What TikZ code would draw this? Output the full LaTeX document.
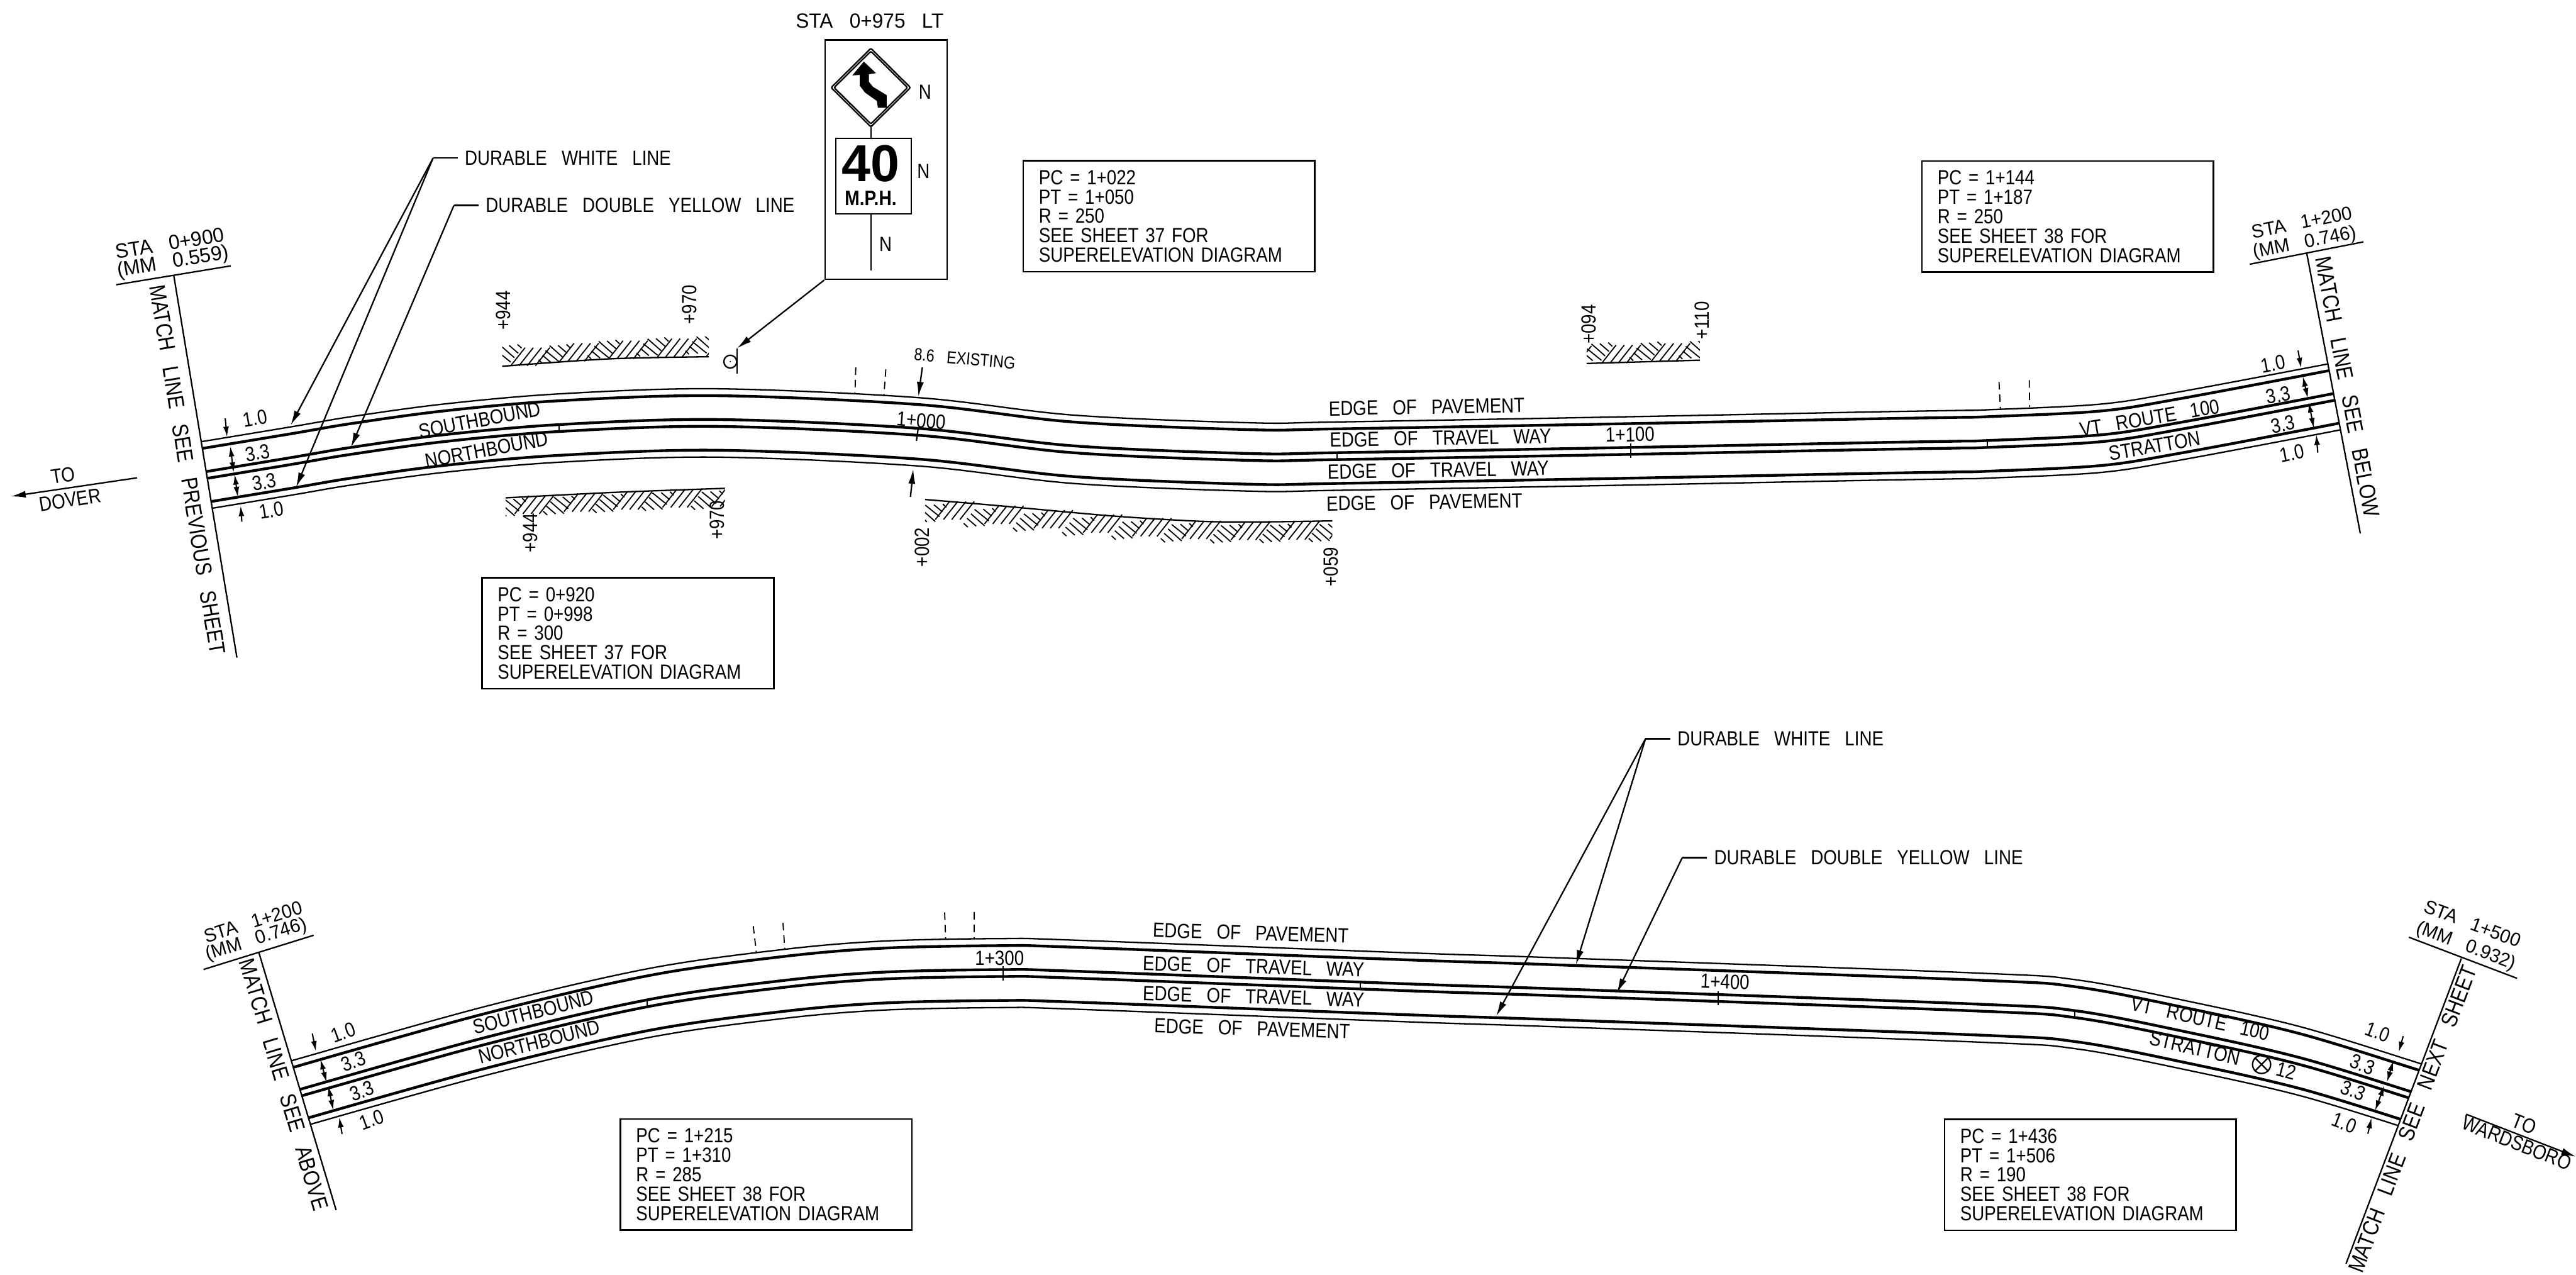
\documentclass[tikz,border=0pt]{standalone}
\usepackage{fontspec}
\setmainfont{Liberation Sans}[FakeStretch=0.85,WordSpace=3]
\newfontfamily\signfont{Liberation Sans}
\newfontfamily\widefont{Liberation Sans}[FakeStretch=0.97,WordSpace=3]
\usepackage{tikz}
\usetikzlibrary{arrows}
\usetikzlibrary{arrows.meta}
\usetikzlibrary{shapes.geometric}

\newcommand{\plansize}{\fontsize{7.1}{6.72}\selectfont}
\newcommand{\matchsize}{\fontsize{7.8}{8}\selectfont}
\newcommand{\stasize}{\widefont\fontsize{6.6}{8}\selectfont}
\newcommand{\firstsize}{\widefont\fontsize{7.1}{8}\selectfont}
\newcommand{\smallsize}{\fontsize{6}{6}\selectfont}
\newcommand{\roadupper}{plot [smooth,tension=0.55] coordinates {(105,292.5) (177,280.6) (213.6,274.4) (270,266.7) (340.4,260.5) (436,257.4) (559,262.8) (653,273.4) (761,278.1) (814,277.6) (992.5,274.4) (1133.7,271.6) (1191.9,270.6) (1209.6,270.2) (1278,266.8) (1326.5,259.3) (1421,241.5) (1445,236.5)}}
\newcommand{\roadlower}{plot [smooth,tension=0.55] coordinates {(150,674.5) (289.7,635) (394,610.6) (477,598.8) (538.3,593.7) (610.6,592.2) (652.3,593.1) (857.6,600.9) (944.8,603.8) (1203.8,613.2) (1264.5,617.4) (1331.7,630.3) (1400,645.8) (1467,666.3) (1490,674)}}

\begin{document}
\begin{tikzpicture}[x=0.02cm,y=-0.02cm]
\tikzset{>={Latex[width=0.85mm,length=1.8mm]}}
\tikzstyle{plantext} =[font=\plansize,inner sep=0pt]
\tikzstyle{matchtext} =[font=\matchsize,inner sep=0pt]
\tikzstyle{statext} =[font=\stasize,inner sep=0pt]
\tikzstyle{firsttext} =[font=\firstsize,inner sep=0pt]
\tikzstyle{smalltext} =[font=\smallsize,inner sep=0pt]
\tikzstyle{leadertext} =[font=\plansize,inner sep=0pt,inner xsep=0.08cm,anchor=west]
\tikzstyle{notebox} =[draw,line width=0.55pt,font=\plansize,align=left,anchor=north west,inner xsep=0.19cm,inner ysep=0pt,text width=3.17cm,minimum height=1.352cm]
\tikzstyle{pavement} =[line width=0.5pt]
\tikzstyle{travelway} =[line width=0.95pt]
\tikzstyle{planline} =[line width=0.5pt]
\tikzstyle{dimline} =[line width=0.45pt,>={Latex[width=0.7mm,length=1.25mm]}]
\tikzstyle{hatchline} =[line width=0.4pt]
\tikzstyle{dashline} =[line width=0.4pt,dash pattern=on 2.6pt off 1.7pt]
\tikzset{hatchcell/.pic={
\foreach \i in {0,...,3} \draw[hatchline] (\i*5,0) -- (\i*5+8.7,-11);
\draw[hatchline] (23.7,-12.2) -- (32,-4.9);
\draw[hatchline] (28.8,-12.4) -- (34.4,-7.6);
\draw[hatchline] (33.9,-13) -- (36.4,-10.7);
\draw[hatchline] (21.1,-9.2) -- (29.8,-2.2);
\draw[hatchline] (19.4,-6.3) -- (24.5,-2);
\draw[hatchline] (17,-3.6) -- (19.1,-1.5);
}}
\useasboundingbox (0,0) rectangle (1568,775.6);

\coordinate (ml1a) at (105.8,167.8);
\coordinate (ml1b) at (144.2,400.2);
\coordinate (ml2a) at (1404.1,154.2);
\coordinate (ml2b) at (1436.7,324.7);
\coordinate (ml3a) at (157.6,579.8);
\coordinate (ml3b) at (204.6,736.5);
\coordinate (ml4a) at (1498.2,583.3);
\coordinate (ml4b) at (1428,769.1);

\begin{scope}
\clip (ml1a) -- (ml1b) -- (ml2b) -- (ml2a) -- cycle;
\foreach \d in {-20.8,20.8} \draw[pavement,shift={(0,\d)}] \roadupper;
\foreach \d in {-16.6,-2.1,2.1,16.6} \draw[travelway,shift={(0,\d)}] \roadupper;
\end{scope}
\begin{scope}
\clip (ml3a) -- (ml3b) -- (ml4b) -- (ml4a) -- (1498.2,530) -- (157.6,530) -- cycle;
\foreach \d in {-21,21} \draw[pavement,shift={(0,\d)}] \roadlower;
\foreach \d in {-16.7,-2.1,2.1,16.7} \draw[travelway,shift={(0,\d)}] \roadlower;
\end{scope}

\draw[planline] (ml1a) -- (ml1b);
\draw[planline] (70.7,173.3) -- (140.5,161.8);
\draw[planline] (ml2a) -- (ml2b);
\draw[planline] (1369.4,160.8) -- (1438.6,147.2);
\draw[planline] (ml3a) -- (ml3b);
\draw[planline] (123.9,590) -- (190.9,569.2);
\draw[planline] (ml4a) -- (ml4b);
\draw[planline] (1466.3,570.4) -- (1532.1,595.4);

\node[firsttext,rotate=9.4](staone) at (103.4,148){STA 0+900};
\node[firsttext,rotate=9.4](mmone) at (105.3,159.7){(MM 0.559)};
\node[matchtext,rotate=-80.6](matchone) at (114.1,285.7){MATCH LINE SEE PREVIOUS SHEET};
\node[statext,rotate=11](statwo) at (1401.2,135.3){STA 1+200};
\node[statext,rotate=11](mmtwo) at (1403,147.9){(MM 0.746)};
\node[matchtext,rotate=-79.2](matchtwo) at (1428.9,235.3){MATCH LINE SEE BELOW};
\node[statext,rotate=17.2](stathree) at (154,561){STA 1+200};
\node[statext,rotate=17.2](mmthree) at (156,572){(MM 0.746)};
\node[matchtext,rotate=-73.3](matchthree) at (172.8,660.1){MATCH LINE SEE ABOVE};
\node[statext,rotate=-20.8](stafour) at (1505,562){STA 1+500};
\node[statext,rotate=-20.8](mmfour) at (1501,576){(MM 0.932)};
\node[matchtext,rotate=69.3](matchfour) at (1468.5,681){MATCH LINE SEE NEXT SHEET};

\coordinate (dovertail) at (83.4,290.8);
\coordinate (doverhead) at (6.7,302.1);
\draw [->,planline] (dovertail) to (doverhead);
\node[plantext,rotate=9](todover) at (38.4,289.3){TO};
\node[plantext,rotate=9](dover) at (42.7,304.2){DOVER};
\coordinate (wardstail) at (1501.1,678.1);
\coordinate (wardshead) at (1568,704);
\draw [->,planline] (wardstail) to (wardshead);
\node[plantext,rotate=-21.5](towards) at (1536.5,684.2){TO};
\node[plantext,rotate=-21.5](wards) at (1532,695.6){WARDSBORO};

\node[leadertext](whiteone) at (278.6,96.2){DURABLE WHITE LINE};
\node[leadertext](yellowone) at (291.3,125){DURABLE DOUBLE YELLOW LINE};
\coordinate (wkneeone) at (263.6,96.2);
\coordinate (ykneeone) at (276.3,125);
\coordinate (wtipa) at (176.9,258.8);
\coordinate (wtipb) at (180.2,296.6);
\coordinate (ytipone) at (213.6,272.3);
\draw [planline] (whiteone) to (wkneeone);
\draw [planline] (yellowone) to (ykneeone);
\draw [->,planline] (wkneeone) to (wtipa);
\draw [->,planline] (wkneeone) to (wtipb);
\draw [->,planline] (ykneeone) to (ytipone);

\node[leadertext](whitetwo) at (1016.7,449.6){DURABLE WHITE LINE};
\node[leadertext](yellowtwo) at (1039,521.9){DURABLE DOUBLE YELLOW LINE};
\coordinate (wkneetwo) at (1001.6,449.6);
\coordinate (ykneetwo) at (1024,521.9);
\coordinate (wtipc) at (959.2,587.2);
\coordinate (wtipd) at (910.7,618.4);
\coordinate (ytiptwo) at (984.1,604.4);
\draw [planline] (whitetwo) to (wkneetwo);
\draw [planline] (yellowtwo) to (ykneetwo);
\draw [->,planline] (wkneetwo) to (wtipc);
\draw [->,planline] (wkneetwo) to (wtipd);
\draw [->,planline] (ykneetwo) to (ytiptwo);

\draw [->,dimline] (137.1,254.6) to (138.2,265.9);
\draw [<->,dimline] (140.2,271.6) to (142.2,287.6);
\draw [<->,dimline] (142.8,288.7) to (144.8,302.5);
\draw [->,dimline] (147.2,317.5) to (146.5,307.9);
\node[plantext,rotate=10](dima) at (155.2,254.6){1.0};
\node[plantext,rotate=10](dimb) at (156.8,275.5){3.3};
\node[plantext,rotate=10](dimc) at (160.8,293.4){3.3};
\node[plantext,rotate=10](dimd) at (165.2,310.6){1.0};
\draw [->,dimline] (1398.8,213.3) to (1400.7,224);
\draw [<->,dimline] (1401.7,229) to (1404.8,242.4);
\draw [<->,dimline] (1405.3,244.8) to (1408.4,260.6);
\draw [->,dimline] (1410.8,275.5) to (1409.9,264.5);
\node[plantext,rotate=11](dime) at (1383.6,221.5){1.0};
\node[plantext,rotate=11](dimf) at (1386.8,240.5){3.3};
\node[plantext,rotate=11](dimg) at (1389.6,258.2){3.3};
\node[plantext,rotate=11](dimh) at (1395.2,275.8){1.0};
\draw [->,dimline] (190.1,629) to (192.3,639.8);
\draw [<->,dimline] (195,644.6) to (198.8,658.7);
\draw [<->,dimline] (199.8,660.9) to (202.9,675.7);
\draw [->,dimline] (208.2,690.1) to (206.5,679.9);
\node[plantext,rotate=20](dimi) at (208.9,628.3){1.0};
\node[plantext,rotate=20](dimj) at (215,646){3.3};
\node[plantext,rotate=20](dimk) at (220.3,663.9){3.3};
\node[plantext,rotate=20](diml) at (226.3,681.4){1.0};
\draw [->,dimline] (1462.8,630.6) to (1460.1,640.2);
\draw [<->,dimline] (1456.8,645.5) to (1453,658.4);
\draw [<->,dimline] (1451.3,660.7) to (1445.7,675.9);
\draw [->,dimline] (1441.3,690) to (1443.5,680.4);
\node[plantext,rotate=-21](dimm) at (1447.3,628){1.0};
\node[plantext,rotate=-21](dimn) at (1438,647.8){3.3};
\node[plantext,rotate=-21](dimo) at (1432.4,663.7){3.3};
\node[plantext,rotate=-21](dimp) at (1426.9,683.4){1.0};

\node[plantext,rotate=10.7](southone) at (292,255.6){SOUTHBOUND};
\node[plantext,rotate=10.7](northone) at (296.3,273.7){NORTHBOUND};
\node[plantext,rotate=9.7](routeone) at (1308.4,254.3){VT ROUTE 100};
\node[plantext,rotate=9.7](strattonone) at (1311.6,271.3){STRATTON};
\node[plantext,rotate=14.4](southtwo) at (324.6,616.1){SOUTHBOUND};
\node[plantext,rotate=14.4](northtwo) at (328.2,633.9){NORTHBOUND};
\node[plantext,rotate=-12.7](routetwo) at (1339.4,619.7){VT ROUTE 100};
\node[plantext,rotate=-13](strattontwo) at (1336.1,637.9){STRATTON};
\node[circle,draw,planline,inner sep=0pt,minimum size=0.22cm](junction) at (1376.6,647.8){};
\draw[planline] (junction.45) -- (junction.225);
\draw[planline] (junction.135) -- (junction.315);
\node[plantext,rotate=-15](routetwelve) at (1391.5,651.9){12};

\node[plantext,rotate=1](pavea) at (868.4,247.7){EDGE OF PAVEMENT};
\node[plantext,rotate=1](travela) at (876.8,266.6){EDGE OF TRAVEL WAY};
\node[plantext,rotate=1](travelb) at (875.4,286.1){EDGE OF TRAVEL WAY};
\node[plantext,rotate=1](paveb) at (867,305.6){EDGE OF PAVEMENT};
\node[plantext,rotate=-1.7](pavec) at (761.3,567.8){EDGE OF PAVEMENT};
\node[plantext,rotate=-1.7](travelc) at (763,588.2){EDGE OF TRAVEL WAY};
\node[plantext,rotate=-1.7](traveld) at (763,606.5){EDGE OF TRAVEL WAY};
\node[plantext,rotate=-1.7](paved) at (762.2,626){EDGE OF PAVEMENT};

\node[plantext,rotate=-5](staa) at (560.7,256){1+000};
\node[plantext,rotate=1](stab) at (992.2,264.4){1+100};
\node[plantext](stac) at (608.4,583.1){1+300};
\node[plantext,rotate=-2](stad) at (1050,597.5){1+400};
\draw[planline] (559,260) -- (557.8,268.3);
\draw[planline] (992.5,270) -- (992.5,278.7);
\draw[planline] (610.6,588) -- (610.6,596.7);
\draw[planline] (1045.7,603.2) -- (1045.7,611.7);
\draw[hatchline] (340.4,258.2) -- (340.4,262.6);
\draw[hatchline] (814,275.6) -- (814,279.1);
\draw[hatchline] (1209.6,268.4) -- (1209.6,272);
\draw[hatchline] (394,608.7) -- (394,612.4);
\draw[hatchline] (828,597.9) -- (828,601.1);
\draw[hatchline] (1263,615.2) -- (1263,619.3);

\draw[dashline] (520.9,223.6) -- (520.4,239.8);
\draw[dashline] (539.2,224.7) -- (538,241);
\draw[dashline] (1216.8,232.5) -- (1217.6,248.7);
\draw[dashline] (1235.2,231.4) -- (1235.4,247.6);
\draw[dashline] (458.5,563.6) -- (460.4,579.7);
\draw[dashline] (476.6,561.7) -- (477.7,577.9);
\draw[dashline] (575,555.3) -- (575.6,571.4);
\draw[dashline] (593.1,555.1) -- (593.1,571.1);

\node[smalltext,rotate=-5](existing) at (587.2,218.3){8.6 EXISTING};
\draw [->,planline] (561.4,223.6) to (559,241.4);
\draw [->,planline] (554.2,302.4) to (555.9,285.4);

\begin{scope}
\clip (305.7,205) rectangle (431.5,225);
\foreach \hx/\hy in {281.1/222.6,310.9/222.6,340.7/219.9,370.5/218.4,400.3/217.1,430/216.9} \pic at (\hx,\hy) {hatchcell};
\end{scope}
\draw[planline] plot [smooth] coordinates {(305.7,222.9) (370.8,218.4) (431.5,217.1)};
\begin{scope}
\clip (307.7,295) rectangle (441.2,315);
\foreach \hx/\hy in {337/301.7,367/300.4,397/299.1,427/297.8,457/297.2} \pic[rotate=180] at (\hx,\hy) {hatchcell};
\end{scope}
\draw[planline] plot [smooth] coordinates {(307.7,303) (375,299.6) (441.2,297.2)};
\begin{scope}
\clip (563.1,302) rectangle (810.9,332);
\foreach \hx/\hy in {593/305.2,623/307.8,653/310.5,683/313.2,713/315.4,743/317,773/317.6,803/317.4,833/316.9} \pic[rotate=180] at (\hx,\hy) {hatchcell};
\end{scope}
\draw[planline] plot [smooth] coordinates {(563.1,304) (605,307.5) (677,314) (732,317.3) (770,317.6) (810.9,317)};
\begin{scope}
\clip (965.8,205) rectangle (1034.7,223);
\foreach \hx/\hy in {945/221.5,975/221,1005/220,1035/219.3} \pic at (\hx,\hy) {hatchcell};
\end{scope}
\draw[planline] (965.8,221.2) -- (1034.7,219.2);

\node[plantext,rotate=90](hatcha) at (306.3,188.9){+944};
\node[plantext,rotate=90](hatchb) at (419.8,185.4){+970};
\node[plantext,rotate=90](hatchc) at (323,324.3){+944};
\node[plantext,rotate=90](hatchd) at (436.5,316.5){+970};
\node[plantext,rotate=90](hatche) at (561.4,333){+002};
\node[plantext,rotate=90](hatchf) at (810,345){+059};
\node[plantext,rotate=90](hatchg) at (967,197.4){+094};
\node[plantext,rotate=90](hatchh) at (1035.8,195){+110};

\node[firsttext](signsta) at (529.4,12.7){STA 0+975 LT};
\node[draw,planline,minimum width=1.488cm,minimum height=2.914cm,anchor=north west,inner sep=0pt](signframe) at (501.7,23.9){};
\draw[planline,rounded corners=0.5pt] (530.1,29.4) -- (554.2,53.3) -- (530.1,77.2) -- (505.9,53.3) -- cycle;
\draw[planline,rounded corners=0.5pt] (530.1,31.2) -- (552.4,53.3) -- (530.1,75.4) -- (507.7,53.3) -- cycle;
\fill (525.8,37.5) -- (533.2,44.5) -- (528.9,45.2) -- (528.9,49.8) -- (531.3,52.8) -- (539.7,57.9) -- (539.7,65.6) -- (534.4,65.6) -- (533.7,61.4) -- (526.5,56.3) -- (523.3,52.1) -- (523.3,45.6) -- (518.8,45.9) -- cycle;
\node[draw,planline,minimum width=0.92cm,minimum height=0.918cm,anchor=north west,inner sep=0pt](speedbox) at (508.2,83.9){};
\coordinate (stemtop) at (530.1,77.2);
\coordinate (stemmid) at (530.1,83.9);
\coordinate (stemlow) at (530.1,129.8);
\coordinate (stemend) at (530.1,164.5);
\draw[planline] (stemtop) -- (stemmid);
\draw[planline] (stemlow) -- (stemend);
\node[inner sep=0pt,font={\signfont\bfseries\fontsize{18}{16}\selectfont}](speedfig) at (530,99.6){40};
\node[inner sep=0pt,font={\bfseries\fontsize{7.2}{6}\selectfont}](mph) at (530,120.5){M.P.H.};
\node[plantext](na) at (563.1,56){N};
\node[plantext](nb) at (562.1,104.3){N};
\node[plantext](nc) at (539,148.8){N};
\node[circle,draw,planline,inner sep=0pt,minimum size=0.156cm](post) at (444.5,220.1){};
\fill (post.center) circle (0.25pt);
\coordinate (posttip) at (448.6,212);
\coordinate (postend) at (448.6,227.5);
\draw[planline] (posttip) -- (postend);
\draw [->,planline] (signframe.south west) to (posttip);

\node[notebox](noteone) at (293,351.1){PC = 0+920\\PT = 0+998\\R = 300\\SEE SHEET 37 FOR\\SUPERELEVATION DIAGRAM};
\node[notebox](notetwo) at (622.4,97.3){PC = 1+022\\PT = 1+050\\R = 250\\SEE SHEET 37 FOR\\SUPERELEVATION DIAGRAM};
\node[notebox](notethree) at (1169.4,97.5){PC = 1+144\\PT = 1+187\\R = 250\\SEE SHEET 38 FOR\\SUPERELEVATION DIAGRAM};
\node[notebox](notefour) at (377.2,680.5){PC = 1+215\\PT = 1+310\\R = 285\\SEE SHEET 38 FOR\\SUPERELEVATION DIAGRAM};
\node[notebox](notefive) at (1183.2,680.7){PC = 1+436\\PT = 1+506\\R = 190\\SEE SHEET 38 FOR\\SUPERELEVATION DIAGRAM};
\end{tikzpicture}
\end{document}
